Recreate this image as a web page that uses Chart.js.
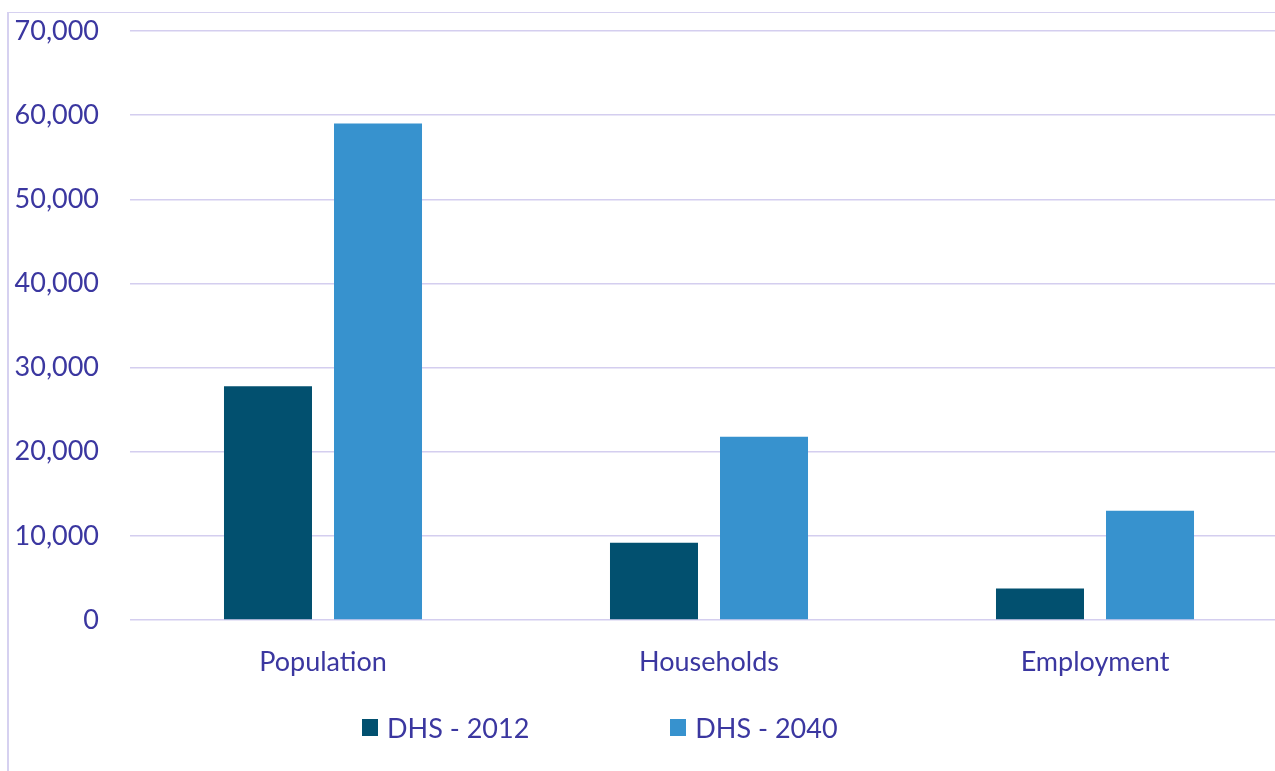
<!DOCTYPE html>
<html>
<head>
<meta charset="utf-8">
<script src="https://cdn.jsdelivr.net/npm/chart.js@4"></script>
<style>
  html, body { margin: 0; padding: 0; background: #fff; overflow: hidden; }
  body { width: 1275px; height: 771px; position: relative; }
  #frame { position: absolute; left: 7px; top: 12px; width: 1400px; height: 900px;
           border-left: 2px solid #d6d1f0; border-top: 1.5px solid #d6d1f0; }
  #wrap { position: absolute; left: 0; top: 0; width: 1290px; height: 771px; }
  #legend { position: absolute; top: 710px; left: 362px; height: 34px; display: flex; align-items: center;
            font-family: Lato, sans-serif; font-size: 27px; color: #3b37a0; }
  #legend .item { display: flex; align-items: center; }
  #legend .box { width: 16px; height: 17px; margin-right: 9px; }
</style>
</head>
<body>
<div id="frame"></div>
<div id="wrap"><canvas id="chart"></canvas></div>
<div id="legend"></div>
<script>
// values
const categories = ['Population', 'Households', 'Employment'];
const dhs2012 = [27800, 9200, 3750];
const dhs2040 = [59000, 21800, 13000];
const seriesNames = ['DHS - 2012', 'DHS - 2040'];
const seriesColors = ['#02506f', '#3792ce'];
const yTicks = [0, 10000, 20000, 30000, 40000, 50000, 60000, 70000];

const textColor = '#3b37a0';
const gridColor = '#d4ceef';
const font = { family: 'Lato, sans-serif', size: 27 };

const ctx = document.getElementById('chart').getContext('2d');
const chart = new Chart(ctx, {
    type: 'bar',
    data: {
        labels: categories,
        datasets: [
            { label: seriesNames[0], data: dhs2012, backgroundColor: seriesColors[0] },
            { label: seriesNames[1], data: dhs2040, backgroundColor: seriesColors[1] }
        ]
    },
    options: {
        responsive: true,
        maintainAspectRatio: false,
        animation: false,
        datasets: { bar: { categoryPercentage: 0.57, barPercentage: 0.8 } },
        layout: { padding: { top: 31, right: 2, left: 0, bottom: 74.5 } },
        plugins: { legend: { display: false }, tooltip: { enabled: false } },
        scales: {
            x: {
                grid: { display: false },
                border: { display: false },
                ticks: { color: textColor, font: font, padding: 18 }
            },
            y: {
                min: 0, max: 70000,
                afterBuildTicks: s => { s.ticks = yTicks.map(v => ({ value: v })); },
                afterFit: s => { s.width = 130; s.paddingTop = 0; s.paddingBottom = 0; },
                grid: { color: gridColor, lineWidth: 1.6, drawTicks: false },
                border: { display: false },
                ticks: {
                    color: textColor, font: font, padding: 31,
                    callback: v => v.toLocaleString('en-US')
                }
            }
        }
    }
});

// legend as html, taken from the chart datasets
const legend = document.getElementById('legend');
chart.data.datasets.forEach((ds, i) => {
    const item = document.createElement('div');
    item.className = 'item';
    if (i > 0) item.style.marginLeft = '141px';
    item.innerHTML = '<span class="box" style="background:' + ds.backgroundColor + '"></span><span>' + ds.label + '</span>';
    legend.appendChild(item);
});
</script>
</body>
</html>
